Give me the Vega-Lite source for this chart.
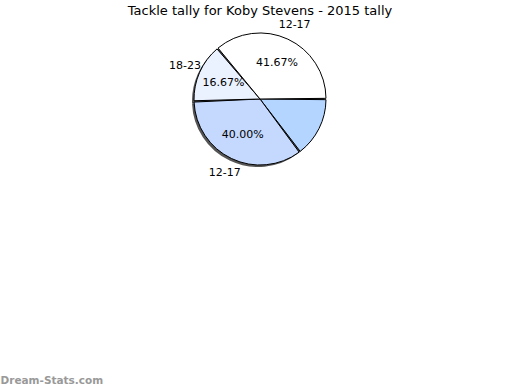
{
  "$schema": "https://vega.github.io/schema/vega-lite/v6.json",
  "width": 520,
  "height": 158,
  "autosize": "none",
  "padding": {"top": 20, "left": 0, "right": 0, "bottom": 212},
  "background": "white",
  "config": {"view": {"stroke": null}},
  "title": {"text": "Tackle tally for Koby Stevens - 2015 tally", "font": "DejaVu Sans", "fontSize": 13, "fontWeight": "normal", "color": "black", "anchor": "middle", "offset": 1},
  "data": {"values": [
    {"slice": "a", "group": "", "pct": 17, "label": "", "order": 1},
    {"slice": "b", "group": "12-17", "pct": 40.00, "label": "40.00%", "order": 2},
    {"slice": "c", "group": "18-23", "pct": 16.67, "label": "16.67%", "order": 3},
    {"slice": "d", "group": "12-17", "pct": 41.67, "label": "41.67%", "order": 4}
  ]},
  "layer": [
    {
      "mark": {"type": "arc", "outerRadius": 66, "fill": "#555555", "xOffset": -2, "yOffset": 2},
      "encoding": {
        "theta": {"field": "pct", "type": "quantitative", "stack": true, "scale": {"range": [1.5708, 7.854]}},
        "order": {"field": "order"}
      }
    },
    {
      "mark": {"type": "arc", "outerRadius": 66, "stroke": "black", "strokeWidth": 1, "padAngle": 0.02},
      "encoding": {
        "theta": {"field": "pct", "type": "quantitative", "stack": true, "scale": {"range": [1.5708, 7.854]}},
        "order": {"field": "order"},
        "color": {"field": "slice", "type": "nominal", "scale": {"domain": ["a", "b", "c", "d"], "range": ["#b4d5ff", "#c5d9ff", "#eaf1ff", "#ffffff"]}, "legend": null}
      }
    },
    {
      "mark": {"type": "text", "radius": 40, "font": "DejaVu Sans", "fontSize": 11, "color": "black"},
      "encoding": {
        "theta": {"field": "pct", "type": "quantitative", "stack": true, "scale": {"range": [1.5708, 7.854]}},
        "order": {"field": "order"},
        "text": {"field": "label"}
      }
    },
    {
      "mark": {"type": "text", "radius": 82, "font": "DejaVu Sans", "fontSize": 11, "color": "black"},
      "encoding": {
        "theta": {"field": "pct", "type": "quantitative", "stack": true, "scale": {"range": [1.5708, 7.854]}},
        "order": {"field": "order"},
        "text": {"field": "group"}
      }
    },
    {
      "mark": {"type": "point", "opacity": 0},
      "encoding": {
        "x": {"datum": 0, "type": "quantitative", "axis": {"title": "Dream-Stats.com", "domain": false, "ticks": false, "labels": false, "grid": false, "titleAnchor": "start", "titleAlign": "left", "titlePadding": 197, "titleFont": "DejaVu Sans", "titleFontSize": 10.5, "titleFontWeight": "bold", "titleColor": "#999999"}}
      }
    }
  ]
}
